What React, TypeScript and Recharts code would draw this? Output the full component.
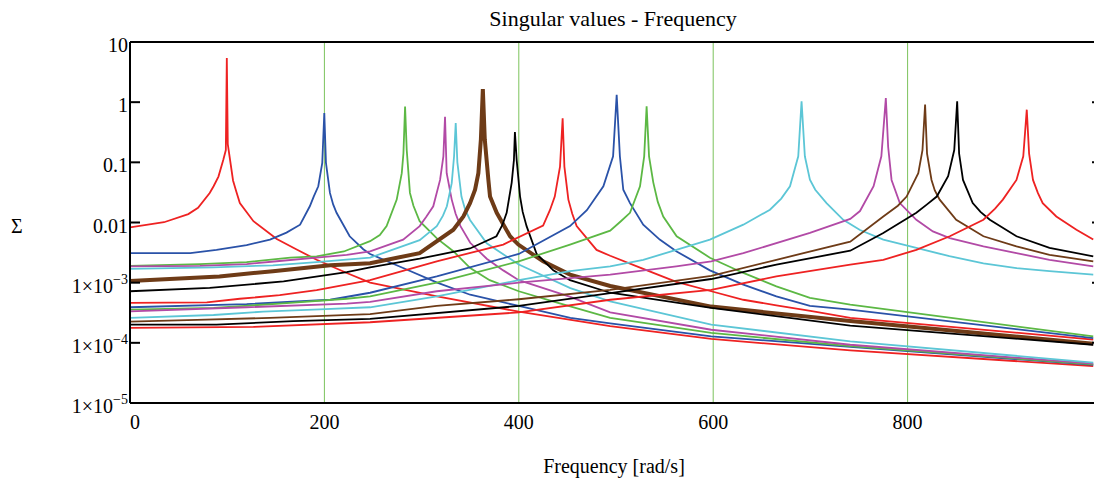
import React from "react";
import { CartesianGrid, Line, LineChart, ReferenceLine, XAxis, YAxis } from "recharts";

const FONT = '"Liberation Serif", "Times New Roman", serif';

// [frequency rad/s, singular value], one array per mode
const red100 = [
  [0, 0.0083], [35, 0.0101], [60, 0.0138], [70, 0.0175], [82, 0.031], [86, 0.04], [91, 0.058], [96, 0.11],
  [98.6, 0.16], [99.6, 5.4], [100.6, 0.2], [106, 0.05], [109.5, 0.032], [113, 0.021], [127, 0.0105],
  [151, 0.0053], [171, 0.0036], [192, 0.0024], [223, 0.00145], [247, 0.001], [316, 0.00059], [400, 0.00033],
  [494, 0.00019], [598, 0.000116], [741, 0.000075], [991, 0.000041],
];
const blue200 = [
  [0, 0.0031], [62, 0.0031], [89, 0.0035], [120, 0.0042], [144, 0.0052], [161, 0.0068], [175, 0.0092],
  [185, 0.0186], [189, 0.027], [193.7, 0.04], [197.8, 0.098], [199.9, 0.66], [201.6, 0.098], [205.7, 0.031],
  [209, 0.02], [212.5, 0.0145], [226, 0.0059], [240, 0.0036], [247, 0.003], [281, 0.00175], [316, 0.001],
  [350, 0.00063], [400, 0.00041], [453, 0.00026], [494, 0.00021], [598, 0.000128], [741, 0.000086],
  [991, 0.000043],
];
const green283 = [
  [0, 0.0019], [72, 0.00204], [120, 0.0022], [165, 0.0026], [192, 0.00274], [220, 0.0033], [247, 0.0049],
  [257, 0.0062], [264, 0.0087], [274.4, 0.024], [279.6, 0.066], [281.3, 0.14], [283, 0.85], [284.7, 0.16],
  [288, 0.031], [291.6, 0.019], [298, 0.0105], [316, 0.0054], [333, 0.0033], [350, 0.00175], [370, 0.0011],
  [400, 0.00072], [435, 0.00049], [494, 0.00026], [598, 0.000146], [741, 0.000088], [991, 0.000044],
];
const magenta324 = [
  [0, 0.00187], [72, 0.0019], [120, 0.00204], [151, 0.00227], [192, 0.0026], [223, 0.0029], [247, 0.0033],
  [281, 0.0052], [298, 0.0087], [305, 0.0126], [312, 0.0186], [319, 0.051], [322.4, 0.126], [324.1, 0.57],
  [325.8, 0.066], [331, 0.024], [335, 0.014], [340, 0.0087], [350, 0.0046], [367, 0.0025], [384, 0.0016],
  [400, 0.0011], [453, 0.00058], [494, 0.00032], [598, 0.000165], [741, 0.000093], [991, 0.000045],
];
const cyan335 = [
  [0, 0.0017], [86, 0.0018], [147, 0.00194], [192, 0.0022], [247, 0.0026], [298, 0.0051], [315.6, 0.0087],
  [322, 0.013], [326, 0.0186], [331, 0.045], [333.4, 0.126], [335.1, 0.45], [336.8, 0.1], [341, 0.027],
  [345, 0.016], [349.8, 0.011], [367, 0.0045], [400, 0.002], [453, 0.00081], [494, 0.00049], [598, 0.0002],
  [741, 0.000106], [991, 0.000047],
];
const brown363 = [
  [0, 0.00107], [92, 0.00127], [147, 0.00155], [206, 0.00194], [247, 0.0021], [298, 0.0031], [332.7, 0.0076],
  [343, 0.0126], [349.8, 0.021], [355, 0.035], [358.4, 0.066], [361, 0.24], [363, 1.65], [365, 0.24],
  [368.7, 0.051], [370.4, 0.027], [377.3, 0.0145], [391, 0.0059], [399.5, 0.0043], [425, 0.00226],
  [452.7, 0.00136], [494, 0.00088], [598, 0.0004], [741, 0.00023], [991, 0.000097],
];
const black396 = [
  [0, 0.00072], [82, 0.00082], [158, 0.00105], [223, 0.0015], [247, 0.0018], [298, 0.0025], [349.8, 0.0037],
  [377, 0.0059], [383, 0.009], [387.5, 0.0145], [392.7, 0.046], [395, 0.11], [396, 0.32], [397.8, 0.11],
  [401.3, 0.027], [404, 0.015], [408, 0.0087], [418.4, 0.003], [435.5, 0.0016], [452.7, 0.0011],
  [494, 0.00068], [598, 0.00038], [741, 0.000193], [991, 0.000093],
];
const red445 = [
  [0, 0.00046], [79, 0.00047], [113, 0.00054], [154, 0.00062], [192, 0.00075], [247, 0.0011], [315.6, 0.00226],
  [384, 0.0043], [425, 0.0089], [432, 0.016], [437, 0.027], [442.4, 0.085], [445.1, 0.54], [446.9, 0.085],
  [451, 0.024], [455, 0.014], [459.5, 0.0087], [480, 0.0035], [494, 0.0028], [528, 0.0017], [562, 0.00103],
  [598, 0.00072], [631, 0.00052], [665, 0.00042], [700, 0.00034], [741, 0.00026], [991, 0.000113],
];
const blue501 = [
  [0, 0.00039], [120, 0.00044], [206, 0.00052], [247, 0.00068], [315.6, 0.00127], [400, 0.003], [452.7, 0.0087],
  [470, 0.016], [487, 0.04], [497, 0.126], [500.7, 1.33], [504, 0.126], [507.5, 0.035], [514.4, 0.021],
  [528, 0.0092], [545, 0.0052], [562.4, 0.0033], [596.6, 0.0016], [631, 0.00093], [665, 0.00059],
  [699.5, 0.00041], [741, 0.000355], [991, 0.00012],
];
const green532 = [
  [0, 0.000356], [86, 0.00038], [154, 0.00045], [223, 0.00054], [247, 0.00059], [315.6, 0.001], [400, 0.00226],
  [452.7, 0.0043], [494, 0.0073], [505, 0.0105], [514.4, 0.0145], [524.7, 0.04], [529, 0.126], [531.5, 0.85],
  [534, 0.126], [538.4, 0.046], [543, 0.022], [548.6, 0.0126], [562.4, 0.0059], [596.6, 0.0026],
  [631, 0.00145], [665, 0.00087], [699.5, 0.00056], [741, 0.00043], [991, 0.000128],
];
const cyan691 = [
  [0, 0.000259], [86, 0.00029], [137, 0.00033], [195, 0.00036], [247, 0.00039], [315.6, 0.00059], [400, 0.0011],
  [452.7, 0.00155], [494, 0.00187], [528, 0.0024], [562, 0.0035], [596.6, 0.0052], [631, 0.0092],
  [658.4, 0.0163], [670, 0.025], [679, 0.04], [687.5, 0.126], [690.9, 1.03], [694.3, 0.126], [699.5, 0.0515],
  [705, 0.035], [716.6, 0.021], [733.8, 0.0111], [751, 0.0075], [775, 0.0052], [809, 0.0038], [843, 0.00275],
  [878, 0.0021], [912, 0.00175], [946, 0.00155], [991, 0.00136],
];
const magenta778 = [
  [0, 0.000333], [120, 0.00039], [223, 0.00045], [247, 0.00048], [315.6, 0.00072], [400, 0.001], [494, 0.00136],
  [562, 0.00187], [598, 0.00226], [631, 0.0031], [699.5, 0.0067], [741, 0.0115], [751, 0.0155], [765, 0.04],
  [773, 0.126], [777.6, 1.17], [780, 0.18], [783.5, 0.051], [792, 0.021], [809, 0.0111], [826, 0.0071],
  [843.4, 0.0055], [878, 0.004], [912, 0.0031], [946, 0.0024], [991, 0.00187],
];
const brown818 = [
  [0, 0.000225], [69, 0.00024], [144, 0.00026], [247, 0.0003], [315.6, 0.00041], [400, 0.00053], [494, 0.00076],
  [598, 0.0013], [665, 0.0024], [741, 0.0048], [775, 0.0126], [790, 0.019], [799, 0.027], [811, 0.066],
  [815.3, 0.16], [818, 0.91], [820, 0.14], [824.6, 0.051], [828, 0.034], [833, 0.024], [850, 0.0111],
  [878, 0.0059], [912, 0.004], [946, 0.0029], [991, 0.00226],
];
const black851 = [
  [0, 0.0002], [89, 0.0002], [168, 0.00023], [247, 0.00025], [400, 0.00041], [494, 0.00067], [598, 0.00115],
  [665, 0.002], [741, 0.0034], [775, 0.0067], [809, 0.0145], [820, 0.02], [830, 0.027], [841.7, 0.059],
  [848, 0.16], [851, 1.03], [853, 0.14], [857, 0.051], [867, 0.021], [875, 0.015], [884.6, 0.0111],
  [912, 0.0059], [946, 0.0038], [991, 0.00274],
];
const red923 = [
  [0, 0.000177], [127, 0.000184], [247, 0.00022], [400, 0.00032], [494, 0.00052], [598, 0.00076], [665, 0.00127],
  [741, 0.002], [775, 0.0024], [809, 0.0035], [843.4, 0.0059], [878, 0.0111], [890, 0.017], [898, 0.024],
  [912, 0.051], [919, 0.126], [922.6, 0.75], [925, 0.14], [929, 0.051], [934, 0.031], [939, 0.021],
  [953, 0.0126], [973.7, 0.0076], [991, 0.0052],
];

const xTicks = [0, 200, 400, 600, 800];
const yTicks = [1e-5, 1e-4, 1e-3, 0.01, 0.1, 1, 10];
const yTickLabels = [
  ["1×10", "−5"], ["1×10", "−4"], ["1×10", "−3"], ["0.01", ""], ["0.1", ""], ["1", ""], ["10", ""],
];

const RED = "#ee2222";
const BLUE = "#2a52a8";
const GREEN = "#5cb844";
const MAGENTA = "#b24aa6";
const CYAN = "#5cc6d6";
const BROWN = "#6e3b17";
const BLACK = "#000000";

const series = [
  { name: "m1", data: red100, color: RED },
  { name: "m2", data: blue200, color: BLUE },
  { name: "m3", data: green283, color: GREEN },
  { name: "m4", data: magenta324, color: MAGENTA },
  { name: "m5", data: cyan335, color: CYAN },
  { name: "m6", data: brown363, color: BROWN, width: 4 },
  { name: "m7", data: black396, color: BLACK },
  { name: "m8", data: red445, color: RED },
  { name: "m9", data: blue501, color: BLUE },
  { name: "m10", data: green532, color: GREEN },
  { name: "m11", data: cyan691, color: CYAN },
  { name: "m12", data: magenta778, color: MAGENTA },
  { name: "m13", data: brown818, color: BROWN },
  { name: "m14", data: black851, color: BLACK },
  { name: "m15", data: red923, color: RED },
];

const toPoints = (arr: number[][]) => arr.map(([f, v]) => ({ f, v }));

function LeftTick({ x, y, payload }: any) {
  const i = yTicks.indexOf(payload.value);
  const [base, exp] = yTickLabels[i] || [String(payload.value), ""];
  const ax = x + 2;
  return (
    <g>
      <line x1={ax} x2={ax + 10} y1={y} y2={y} stroke="#000" strokeWidth={2} />
      <text x={x} y={y + 10} textAnchor="end" fontFamily={FONT} fontSize={20} fill="#000">
        {base}
        {exp ? (
          <tspan dy={-9} fontSize={14}>
            {exp}
          </tspan>
        ) : null}
      </text>
    </g>
  );
}

function RightTick({ x, y }: any) {
  return <line x1={x - 10} x2={x} y1={y} y2={y} stroke="#000" strokeWidth={2} />;
}

function BottomTick({ x, y, payload }: any) {
  return (
    <text
      x={x + (payload.value === 0 ? 5 : 0)}
      y={y + 26}
      textAnchor="middle"
      fontFamily={FONT}
      fontSize={20}
      fill="#000"
    >
      {payload.value}
    </text>
  );
}

export default function App() {
  return (
    <div
      style={{
        position: "absolute",
        left: 0,
        top: 0,
        width: 1094,
        height: 481,
        overflow: "hidden",
        background: "#fff",
      }}
    >
      <LineChart width={1104} height={481} margin={{ top: 42, right: 1, left: 0, bottom: 0 }}>
        <CartesianGrid xAxisId="b" yAxisId="l" horizontal={false} stroke="#7cc35c" strokeWidth={1} />
        <XAxis
          xAxisId="b"
          dataKey="f"
          type="number"
          domain={[0, 1000]}
          ticks={xTicks}
          interval={0}
          allowDataOverflow
          height={78}
          tickSize={0}
          tickMargin={0}
          tickLine={false}
          axisLine={{ stroke: "#000", strokeWidth: 2 }}
          tick={<BottomTick />}
        />
        <YAxis
          yAxisId="l"
          type="number"
          scale="log"
          domain={[1e-5, 10]}
          ticks={yTicks}
          interval={0}
          allowDataOverflow
          width={130}
          tickSize={0}
          tickMargin={2}
          tickLine={false}
          axisLine={{ stroke: "#000", strokeWidth: 2 }}
          tick={<LeftTick />}
        />
        <YAxis
          yAxisId="r"
          orientation="right"
          type="number"
          scale="log"
          domain={[1e-5, 10]}
          ticks={yTicks}
          interval={0}
          allowDataOverflow
          width={1}
          tickSize={0}
          tickMargin={0}
          tickLine={false}
          axisLine={{ stroke: "#000", strokeWidth: 2 }}
          tick={<RightTick />}
        />
        <ReferenceLine xAxisId="b" yAxisId="l" y={10} stroke="#000" strokeWidth={2} />
        {series.map((s) => (
          <Line
            key={s.name}
            xAxisId="b"
            yAxisId="l"
            data={toPoints(s.data)}
            dataKey="v"
            type="linear"
            stroke={s.color}
            strokeWidth={s.width || 1.8}
            dot={false}
            activeDot={false}
            isAnimationActive={false}
          />
        ))}
      </LineChart>
      <div
        style={{
          position: "absolute",
          left: 0,
          width: 1226,
          top: 8,
          textAlign: "center",
          fontFamily: FONT,
          fontSize: 22,
          lineHeight: "22px",
          whiteSpace: "nowrap",
        }}
      >
        Singular values - Frequency
      </div>
      <div
        style={{
          position: "absolute",
          left: 0,
          width: 1228,
          top: 456,
          textAlign: "center",
          fontFamily: FONT,
          fontSize: 20,
          lineHeight: "20px",
          whiteSpace: "nowrap",
        }}
      >
        Frequency [rad/s]
      </div>
      <div
        style={{
          position: "absolute",
          left: 11,
          top: 216,
          fontFamily: FONT,
          fontSize: 20,
          lineHeight: "20px",
        }}
      >
        Σ
      </div>
    </div>
  );
}
